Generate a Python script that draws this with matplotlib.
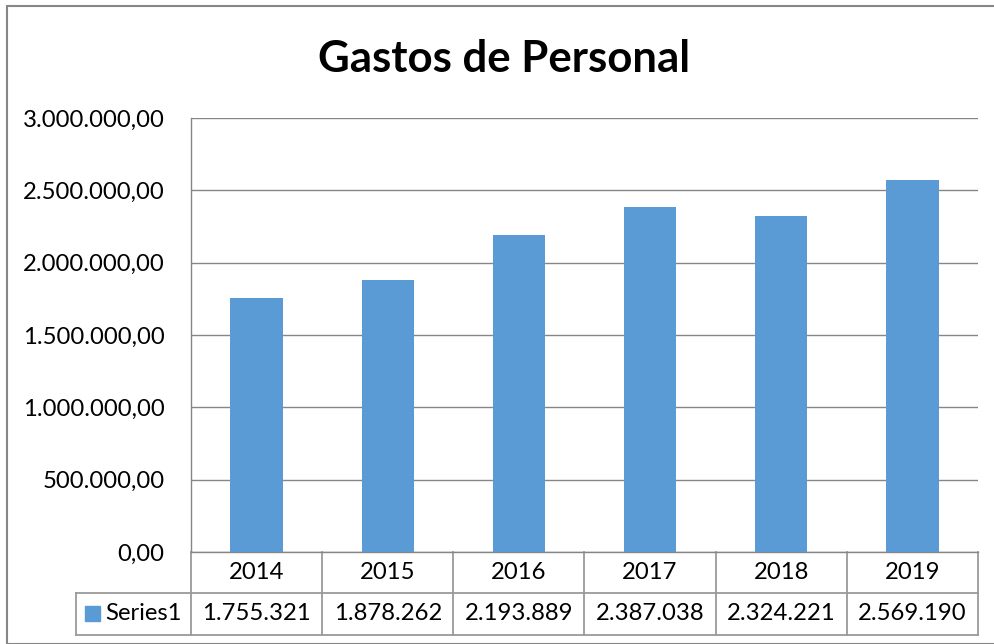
import matplotlib.pyplot as plt
import matplotlib.transforms as mtransforms
from matplotlib.patches import Rectangle

plt.rcParams['font.family'] = ['Lato', 'DejaVu Sans']

anios = ["2014", "2015", "2016", "2017", "2018", "2019"]
gastos = [1755321, 1878262, 2193889, 2387038, 2324221, 2569190]
serie = "Series1"
titulo = "Gastos de Personal"

W, H = 995, 644
fig = plt.figure(figsize=(W / 100, H / 100), dpi=100)

# marco exterior del grafico
fig.patches.append(Rectangle((7 / W, 0), 1.2, (H - 6) / H, transform=fig.transFigure,
                             fill=False, edgecolor="#878787", linewidth=1.5))

# area de trazado en pixeles
x0, x1, ytop, ybot = 191, 978, 118, 552
ax = fig.add_axes([x0 / W, (H - ybot) / H, (x1 - x0) / W, (ybot - ytop) / H])

fs = 17.2
pos = range(len(anios))
ax.bar(pos, gastos, width=0.4, color="#5B9BD5", zorder=3)
ax.set_xlim(-0.5, len(anios) - 0.5)
ax.set_ylim(0, 3000000)
ax.set_yticks(range(0, 3000001, 500000))
ax.set_yticklabels([f"{v:,.2f}".replace(",", "X").replace(".", ",").replace("X", ".")
                    for v in range(0, 3000001, 500000)], fontsize=fs)
ax.tick_params(axis="y", length=0, pad=19)
ax.set_xticks([])
ax.grid(axis="y", color="#868686", linewidth=1, zorder=0)
for s in ["left", "right", "top", "bottom"]:
    ax.spines[s].set_color("#868686")
    ax.spines[s].set_linewidth(1)
ax.spines["top"].set_visible(False)
ax.spines["right"].set_visible(False)

fig.text(504 / W, 1 - 72 / H, titulo, fontsize=31.5, fontweight="bold",
         ha="center", va="baseline")

# tabla de datos debajo del eje
alto = ybot - ytop
ancho = x1 - x0
r1 = -(593 - ybot) / alto
r2 = -(635 - ybot) / alto
izq = (76 - x0) / ancho
tr = mtransforms.blended_transform_factory(ax.transData, ax.transAxes)
lc = dict(color="#9a9a9a", linewidth=1.3, clip_on=False)

for i in range(len(anios) + 1):
    ax.plot([i - 0.5, i - 0.5], [0, r2], transform=tr, **lc)
ax.plot([izq, 1], [r1, r1], transform=ax.transAxes, **lc)
ax.plot([izq, 1], [r2, r2], transform=ax.transAxes, **lc)
ax.plot([izq, izq], [r1, r2], transform=ax.transAxes, **lc)

for i, (a, g) in enumerate(zip(anios, gastos)):
    ax.text(i, r1 / 2, a, transform=tr, ha="center", va="center", fontsize=fs)
    ax.text(i, (r1 + r2) / 2, f"{g:,}".replace(",", "."), transform=tr,
            ha="center", va="center", fontsize=fs)

ax.add_patch(Rectangle(((85 - x0) / ancho, -(621 - ybot) / alto),
                       15 / ancho, 15 / alto, transform=ax.transAxes,
                       color="#5B9BD5", clip_on=False))
ax.text((105 - x0) / ancho, (r1 + r2) / 2, serie, transform=ax.transAxes,
        ha="left", va="center", fontsize=fs)

fig.savefig("out.png", dpi=100)
